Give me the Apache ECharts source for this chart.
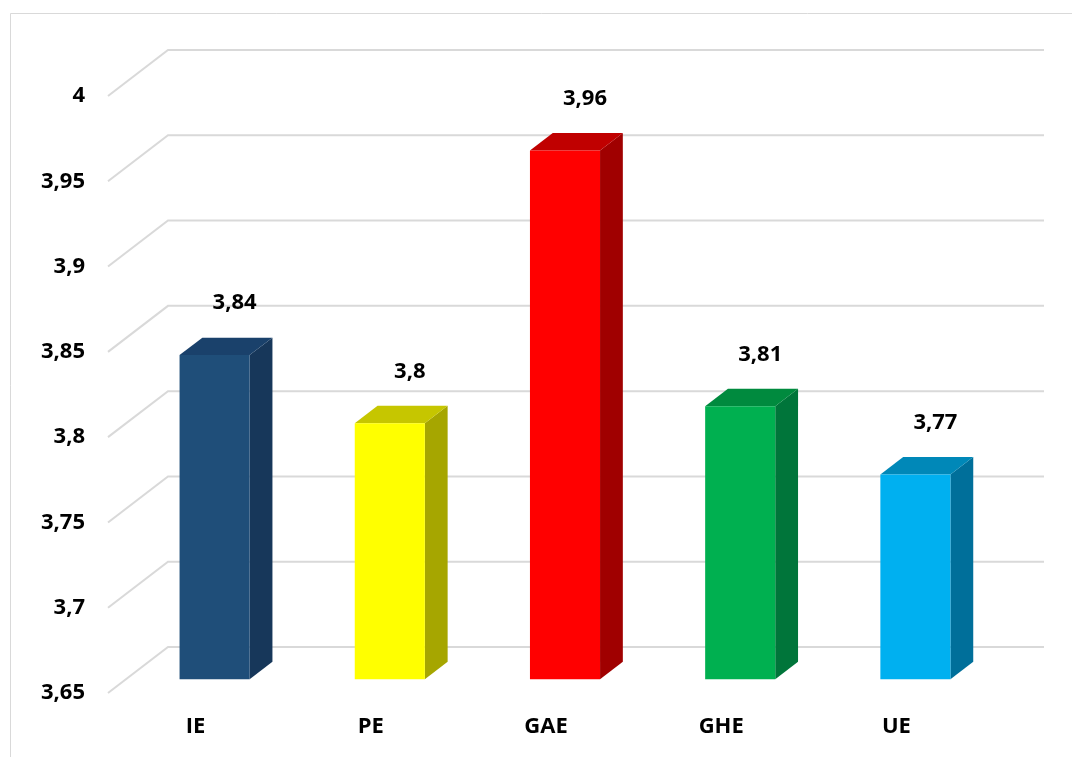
<!DOCTYPE html>
<html>
<head>
<meta charset="utf-8">
<script src="https://cdn.jsdelivr.net/npm/echarts@6/dist/echarts.min.js"></script>
<style>
  html, body { margin: 0; padding: 0; background: #fff; }
  #chart { width: 1072px; height: 757px; }
</style>
</head>
<body>
<div id="chart"></div>
<script>
// Mean scores per dimension
const categories = ['IE', 'PE', 'GAE', 'GHE', 'UE'];
const values = [3.84, 3.8, 3.96, 3.81, 3.77];

// Value axis range and tick values
const yMin = 3.65;
const yMax = 4;
const yStep = 0.05;
const yTicks = [3.65, 3.7, 3.75, 3.8, 3.85, 3.9, 3.95, 4];

// Face colours per bar: front, top, side
const frontColors = ['#1f4e79', '#ffff00', '#ff0000', '#00b050', '#00b0f0'];
const topColors = ['#1a416b', '#c6c600', '#c00000', '#008a3e', '#0088b8'];
const sideColors = ['#17375a', '#a6a600', '#a00000', '#00753a', '#006f9a'];

// Depth of the plot box (front plane -> back wall), in pixels
const DEPTH = [60, -46];
const BAR_FRONT = 0.3;   // bar front face sits this far into the box
const BAR_DEPTH = 0.38;  // bar depth as a share of box depth
const BAR_WIDTH = 0.4;   // share of category band

const fmt = v => String(+(+v).toFixed(2)).replace('.', ',');
const FONT = '"Open Sans", "Liberation Sans", sans-serif';
const FONT_SIZE = 22;

const chart = echarts.init(document.getElementById('chart'), null, { renderer: 'canvas' });

function renderGrid(params, api) {
  const cs = params.coordSys;
  const y = api.coord([0, api.value(0)])[1];
  const x0 = cs.x;
  const x1 = cs.x + cs.width;
  return {
    type: 'polyline',
    shape: {
      points: [
        [x0, y],
        [x0 + DEPTH[0], y + DEPTH[1]],
        [x1 + DEPTH[0], y + DEPTH[1]]
      ]
    },
    style: { stroke: '#d9d9d9', lineWidth: 2, fill: null },
    silent: true
  };
}

function renderBar(params, api) {
  const idx = api.value(0);
  const val = api.value(1);
  const top = api.coord([idx, val]);
  const base = api.coord([idx, yMin]);
  const band = api.size([1, 0])[0];
  const w = band * BAR_WIDTH;
  const fx = BAR_FRONT * DEPTH[0], fy = BAR_FRONT * DEPTH[1];
  const dx = BAR_DEPTH * DEPTH[0], dy = BAR_DEPTH * DEPTH[1];
  const l = top[0] - w / 2 + fx + 1;
  const r = top[0] + w / 2 + fx + 1;
  const t = top[1] + fy;
  const b = base[1] + fy;
  const i = params.dataIndex;
  return {
    type: 'group',
    children: [
      {
        type: 'polygon',
        shape: { points: [[r, t], [r + dx, t + dy], [r + dx, b + dy], [r, b]] },
        style: { fill: sideColors[i] }
      },
      {
        type: 'polygon',
        shape: { points: [[l, t], [l + dx, t + dy], [r + dx, t + dy], [r, t]] },
        style: { fill: topColors[i] }
      },
      {
        type: 'rect',
        shape: { x: l, y: t, width: w, height: b - t },
        style: { fill: frontColors[i] }
      },
      {
        type: 'text',
        x: (l + r) / 2 + 20,
        y: t - 52,
        style: {
          text: fmt(val),
          fill: '#000',
          font: 'bold ' + FONT_SIZE + 'px ' + FONT,
          align: 'center',
          verticalAlign: 'middle'
        }
      }
    ]
  };
}

chart.setOption({
  animation: false,
  backgroundColor: '#fff',
  graphic: [{
    type: 'rect',
    shape: { x: 10.5, y: 13.5, width: 1100, height: 800 },
    style: { fill: null, stroke: '#d9d9d9', lineWidth: 1 },
    silent: true,
    z: -10
  }],
  grid: { left: 108, right: 88, top: 96, bottom: 64 },
  xAxis: {
    type: 'category',
    data: categories,
    boundaryGap: true,
    axisLine: { show: false },
    axisTick: { show: false },
    axisLabel: {
      margin: 23,
      color: '#000',
      fontFamily: FONT,
      fontWeight: 'bold',
      fontSize: FONT_SIZE
    }
  },
  yAxis: {
    type: 'value',
    min: yMin,
    max: yMax,
    interval: yStep,
    axisLine: { show: false },
    axisTick: { show: false },
    splitLine: { show: false },
    axisLabel: {
      margin: 23,
      color: '#000',
      fontFamily: FONT,
      fontWeight: 'bold',
      fontSize: FONT_SIZE,
      formatter: v => fmt(v)
    }
  },
  series: [
    {
      type: 'custom',
      name: 'grid',
      renderItem: renderGrid,
      data: yTicks.map(v => [v]),
      encode: { y: 0 },
      z: 1,
      silent: true
    },
    {
      type: 'custom',
      name: 'bars',
      renderItem: renderBar,
      data: values.map((v, i) => [i, v]),
      encode: { x: 0, y: 1 },
      z: 2
    }
  ]
});
</script>
</body>
</html>
